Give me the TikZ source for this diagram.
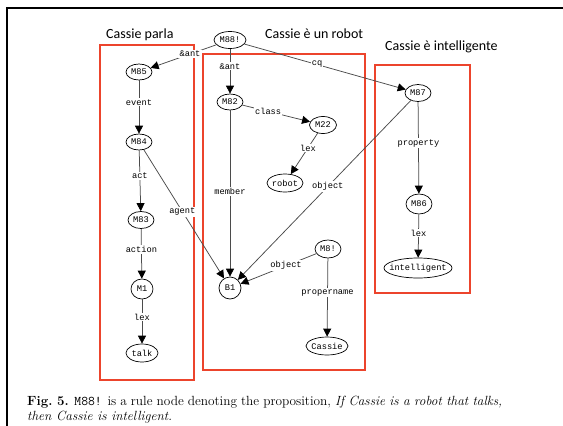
\documentclass[tikz,border=0pt]{standalone}
\usepackage{fontspec}
\newfontfamily\graphfont{Liberation Mono}
\newfontfamily\titlefont{Carlito}
\usetikzlibrary{shapes.geometric, arrows.meta}

\definecolor{boxred}{RGB}{236,68,44}
\definecolor{edgegray}{RGB}{75,75,75}

% node text takes no room: each node's size is set explicitly
\newcommand\ntxt[1]{\makebox[0pt]{#1}}

\tikzset{
  sn/.style={ellipse, draw, line width=0.7pt, inner sep=0pt,
             minimum width=#1, minimum height=17pt,
             font=\graphfont\fontsize{8.7}{9}\selectfont},
  arc/.style={draw=edgegray, line width=0.75pt,
              -{Triangle[length=8pt,width=8pt,color=black]}},
  lbl/.style={fill=white, inner sep=1.2pt, text=black,
              font=\graphfont\fontsize{8.7}{9}\selectfont},
  frame/.style={draw=boxred, line width=1.3pt},
  ttl/.style={anchor=base west, inner sep=0pt,
              font=\titlefont\fontsize{14}{16}\selectfont}
}

\begin{document}
\begin{tikzpicture}[x=1pt, y=-1pt]
\useasboundingbox (0,0) rectangle (563,426);

% page edge
\draw[line width=2pt] (7,426) -- (7,8) -- (563,8);

% groups
\draw[frame] (100,45) rectangle (194,380);
\draw[frame] (203,54) rectangle (365,370);
\draw[frame] (375,65) rectangle (470,293);

\node[ttl] (t1) at (106,38.5) {Cassie parla};
\node[ttl] (t2) at (265,38.5) {Cassie è un robot};
\node[ttl] (t3) at (385,50.5) {Cassie è intelligente};

% nodes
\node[sn=32pt] (m88) at (230,40) {\ntxt{M88!}};
\node[sn=26pt, minimum height=16pt] (m85) at (139,72) {\ntxt{M85}};
\node[sn=26pt, minimum height=16pt] (m84) at (139,142) {\ntxt{M84}};
\node[sn=26pt] (m83) at (141,220) {\ntxt{M83}};
\node[sn=22pt, minimum height=20pt] (m1) at (142,289) {\ntxt{M1}};
\node[sn=32pt, minimum height=18pt] (talk) at (142,353) {\ntxt{talk}};
\node[sn=26pt, minimum height=16pt] (m82) at (230,102) {\ntxt{M82}};
\node[sn=27pt] (m22) at (323,125) {\ntxt{M22}};
\node[sn=36pt, minimum height=18pt] (robot) at (285,183) {\ntxt{robot}};
\node[sn=22pt, minimum height=22pt] (b1) at (230,288) {\ntxt{B1}};
\node[sn=26pt, minimum height=18pt] (m8) at (328,249) {\ntxt{M8!}};
\node[sn=42pt, minimum height=18pt] (cassie) at (327,346) {\ntxt{Cassie}};
\node[sn=26pt] (m87) at (418,93) {\ntxt{M87}};
\node[sn=26pt, minimum height=20pt] (m86) at (419,204) {\ntxt{M86}};
\node[sn=68pt, minimum height=20pt] (intel) at (418,268) {\ntxt{intelligent}};

% arcs
\draw[arc] (m88) -- node[lbl, pos=.40] {\&ant} (m85);
\draw[arc] (m88) -- node[lbl, pos=.39] {\&ant} (m82);
\draw[arc] (m88) -- node[lbl, pos=.45] {cq} (m87);
\draw[arc] (m85) -- node[lbl, pos=.41] {event} (m84);
\draw[arc] (m84) -- node[lbl, pos=.42] {act} (m83);
\draw[arc] (m84) -- node[lbl, pos=.48] {agent} (b1);
\draw[arc] (m83) -- node[lbl, pos=.42] {action} (m1);
\draw[arc] (m1) -- node[lbl, pos=.40] {lex} (talk);
\draw[arc] (m82) -- node[lbl, pos=.38] {class} (m22);
\draw[arc] (m82) -- node[lbl, pos=.49] {member} (b1);
\draw[arc] (m22) -- node[lbl, pos=.36] {lex} (robot);
\draw[arc] (m87) -- node[lbl, pos=.48] {object} (b1);
\draw[arc] (m87) -- node[lbl, pos=.45] {property} (m86);
\draw[arc] (m86) -- node[lbl, pos=.43] {lex} (intel);
\draw[arc] (m8) -- node[lbl, pos=.40] {object} (b1);
\draw[arc] (m8) -- node[lbl, pos=.44] {propername} (cassie);

% caption
\node[anchor=north west, inner sep=0pt, text width=475pt, align=justify,
      font=\fontsize{13.3}{15.06}\selectfont] (cap) at (27,396)
  {\textbf{Fig.~5.} \texttt{M88!} is a rule node denoting the proposition,
   \emph{If Cassie is a robot that talks,}\linebreak
   \emph{then Cassie is intelligent.}};
\end{tikzpicture}
\end{document}
